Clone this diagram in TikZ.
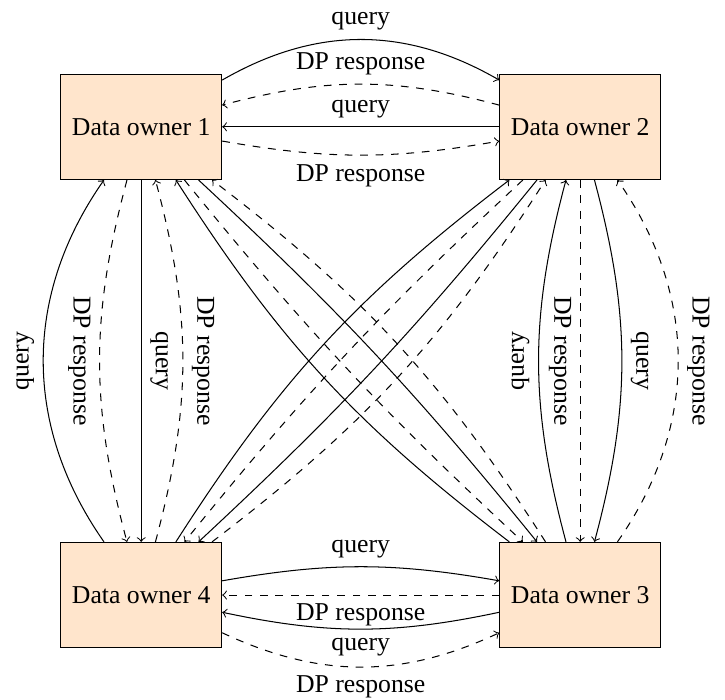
\documentclass[tikz,border=0pt]{standalone}
\usepackage{fontspec}
\setmainfont{Liberation Serif}

\begin{document}
\begin{tikzpicture}[owner/.style={draw, fill=orange!20, minimum width=2.2cm, minimum height=1.44cm},
                    qry/.style={->},
                    resp/.style={->, dashed}]
                \useasboundingbox (-1.930,1.733) rectangle (7.979,-7.834);
                \node[owner] (owner1) at (0,0) {Data owner 1};
                \node[owner] (owner2) at (6,0) {Data owner 2};
                \node[owner] (owner3) at (6,-6.4) {Data owner 3};
                \node[owner] (owner4) at (0,-6.4) {Data owner 4};
                % owner 1 and owner 2
                \draw[qry] (owner1) to[bend left=30] node[above] {query} (owner2);
                \draw[resp] (owner2) to[bend right=15] node[above] {DP response} (owner1);
                \draw[qry] (owner2) -- node[above] {query} (owner1);
                \draw[resp] (owner1) to[bend right=10] node[below] {DP response} (owner2);
                % owner 4 and owner 3
                \draw[qry] (owner4) to[bend left=10] node[above] {query} (owner3);
                \draw[resp] (owner3) -- node[below] {DP response} (owner4);
                \draw[qry] (owner3) to[bend left=12] node[below] {query} (owner4);
                \draw[resp] (owner4) to[bend right=25] node[below] {DP response} (owner3);
                % owner 1 and owner 4
                \draw[qry] (owner4) to[bend left=35] node[rotate=90, anchor=south] {query} (owner1);
                \draw[resp] (owner1) to[bend right=15] node[rotate=-90, anchor=north] {DP response} (owner4);
                \draw[qry] (owner1) -- node[rotate=-90, anchor=south] {query} (owner4);
                \draw[resp] (owner4) to[bend right=15] node[rotate=-90, anchor=south] {DP response} (owner1);
                % owner 2 and owner 3
                \draw[qry] (owner3) to[bend left=15] node[rotate=90, anchor=south] {query} (owner2);
                \draw[resp] (owner2) -- node[rotate=-90, anchor=north] {DP response} (owner3);
                \draw[qry] (owner2) to[bend left=15] node[rotate=-90, anchor=south] {query} (owner3);
                \draw[resp] (owner3) to[bend right=35] node[rotate=-90, anchor=south] {DP response} (owner2);
                % diagonals
                \draw[qry] (owner3) to[bend left=10] (owner1);
                \draw[resp] (owner1) to[bend right=4] (owner3);
                \draw[qry] (owner1) to[bend left=4] (owner3);
                \draw[resp] (owner3) to[bend right=10] (owner1);
                \draw[qry] (owner4) to[bend left=10] (owner2);
                \draw[resp] (owner2) to[bend right=4] (owner4);
                \draw[qry] (owner2) to[bend left=4] (owner4);
                \draw[resp] (owner4) to[bend right=10] (owner2);
            \end{tikzpicture}
\end{document}
